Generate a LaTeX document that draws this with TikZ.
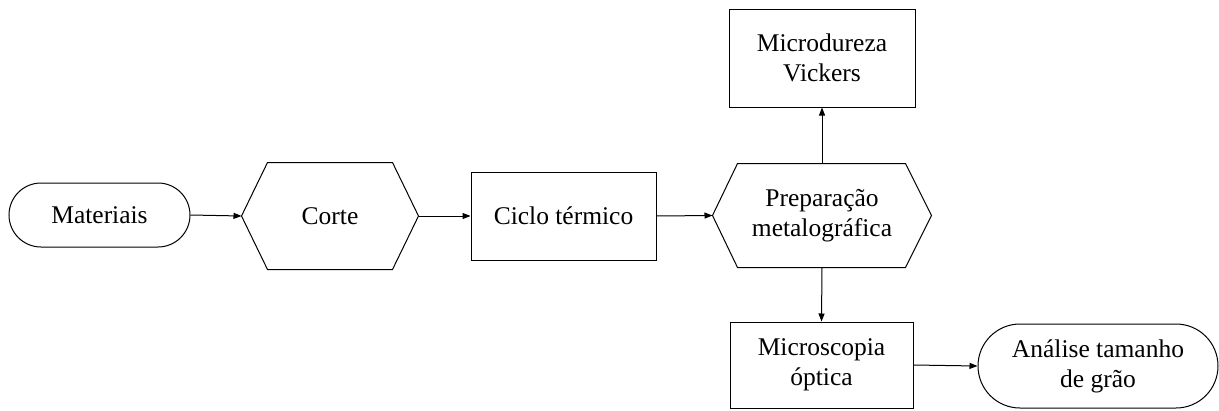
\documentclass[tikz,border=0pt]{standalone}
\usepackage{fontspec}
\setmainfont{Liberation Serif}
\usetikzlibrary{shapes.misc,arrows.meta}
\begin{document}
\begin{tikzpicture}[x=1pt,y=-1pt,
  every node/.style={font=\fontsize{25.5}{30}\selectfont, align=center, inner sep=0pt, line width=1pt},
  boxnode/.style={draw, rectangle},
  stadium/.style={draw, rounded rectangle},
  hexbase/.style={rectangle},
  arr/.style={line width=1pt, -{Triangle[length=8pt,width=6pt]}},
  hexline/.style={draw, line width=1pt, line join=miter}
]
\useasboundingbox (0,0) rectangle (1219,410);
\node[stadium, minimum width=181pt, minimum height=64pt] (mat) at (99.5,215) {Materiais};
\node[hexbase, minimum width=176pt, minimum height=106pt] (corte) at (330,216) {Corte};
\node[boxnode, minimum width=185pt, minimum height=88pt] (ciclo) at (563.5,216) {Ciclo térmico};
\node[hexbase, minimum width=218pt, minimum height=103pt] (prep) at (822,215.5) {Preparação\\metalográfica};
\node[boxnode, minimum width=186pt, minimum height=98pt] (micro) at (822,58) {Microdureza\\Vickers};
\node[boxnode, minimum width=183pt, minimum height=86pt] (mos) at (821.5,365) {Microscopia\\óptica};
\node[stadium, minimum width=240pt, minimum height=84pt] (ana) at (1098,366) {Análise tamanho\\de grão};

\draw[hexline] ([xshift=26pt]corte.north west) -- ([xshift=-26pt]corte.north east) -- (corte.east)
  -- ([xshift=-26pt]corte.south east) -- ([xshift=26pt]corte.south west) -- (corte.west) -- cycle;
\draw[hexline] ([xshift=25pt]prep.north west) -- ([xshift=-26pt]prep.north east) -- (prep.east)
  -- ([xshift=-26pt]prep.south east) -- ([xshift=25pt]prep.south west) -- (prep.west) -- cycle;

\draw[arr] (mat.east) -- (corte.west);
\draw[arr] (corte.east) -- (ciclo.west);
\draw[arr] (ciclo.east) -- (prep.west);
\draw[arr] (prep.north) -- (micro.south);
\draw[arr] (prep.south) -- (mos.north);
\draw[arr] (mos.east) -- (ana.west);
\end{tikzpicture}
\end{document}
